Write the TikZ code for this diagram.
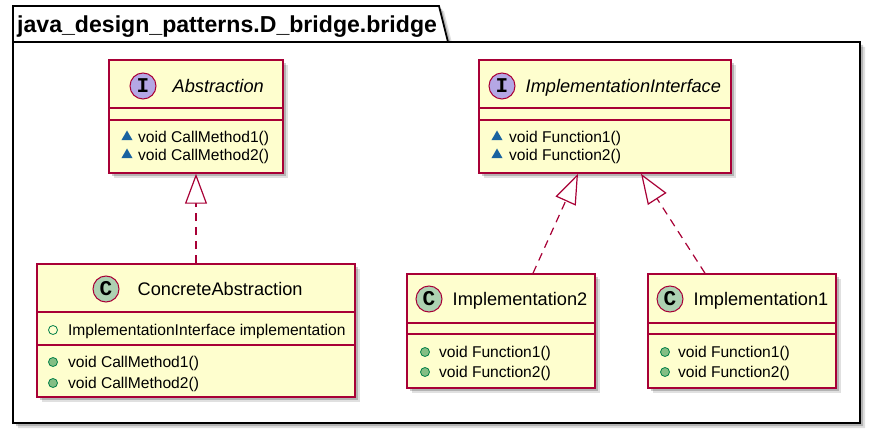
\documentclass[tikz,border=0pt]{standalone}
\usepackage{fontspec}
\setmainfont{Liberation Sans}
\setmonofont{Liberation Mono}
\usepackage{xcolor}
\usepackage{tikz}
\usetikzlibrary{positioning}
\usetikzlibrary{arrows.meta,shadows,shapes.geometric}
\definecolor{umlfill}{HTML}{FEFECE}
\definecolor{umlborder}{HTML}{A80036}
\definecolor{spotI}{HTML}{B4A7E5}
\definecolor{spotC}{HTML}{ADD1B2}
\definecolor{pubfill}{HTML}{84BE84}
\definecolor{publine}{HTML}{038048}
\definecolor{pkgtri}{HTML}{1963A0}
\tikzset{realize/.style = {draw=umlborder,line width=1.2pt,dash pattern=on 8pt off 6pt,
  -{Triangle[length=30pt,width=22pt,fill=white,line width=1.2pt]}}}
\tikzset{shade box/.style = {drop shadow={shadow xshift=5pt,shadow yshift=-5pt,opacity=0.12,fill=black},
  drop shadow={shadow xshift=3pt,shadow yshift=-3pt,opacity=0.2,fill=black}}}

\begin{document}
\begin{tikzpicture}[x=1pt,y=-1pt,
    class node/.style={rectangle,draw=umlborder,line width=1.5pt,fill=umlfill,inner sep=0pt,shade box},
    spot/.style={circle,draw=umlborder,line width=1pt,minimum size=26pt,inner sep=0pt,
      font=\ttfamily\bfseries\fontsize{21}{21}\selectfont},
    cname/.style={inner sep=0pt,text height=16pt,text depth=3pt,font=\fontsize{18.2}{20}\selectfont},
    iname/.style={cname,font=\itshape\fontsize{18.2}{20}\selectfont},
    member/.style={inner sep=0pt,text height=14pt,text depth=2.8pt,font=\fontsize{15.6}{18}\selectfont},
    pub/.style={circle,draw=publine,fill=pubfill,line width=0.8pt,minimum size=9pt,inner sep=0pt},
    field/.style={pub,fill=none},
    pkgdot/.style={regular polygon,regular polygon sides=3,fill=pkgtri,minimum size=13pt,inner sep=0pt},
    sep/.style={draw=umlborder,line width=1.5pt}]
        \useasboundingbox (0,0) rectangle (875,430);

        % package frame
        \draw[line width=1.8pt,fill=white,shade box] (13,42) -- (13,6) -- (439,6) -- (448,42)
            -- (860,42) -- (860,423) -- (13,423) -- cycle;
        \draw[line width=1.8pt] (13,42) -- (448,42);
        \node[inner sep=0pt,anchor=base west,font=\bfseries\fontsize{23.1}{24}\selectfont] (pkgtitle)
            at (17,32.5) {java\_design\_patterns.D\_bridge.bridge};

        % interfaces
        \node[class node,minimum width=174pt,minimum height=113pt] (abs) at (196,116.5) {};
        \node[spot,fill=spotI] (absspot) at (143,86) {I};
        \node[iname] (absname) [right=16pt of absspot] {Abstraction};
        \draw[sep] (abs.west |- 0,108) -- (abs.east |- 0,108);
        \draw[sep] (abs.west |- 0,120) -- (abs.east |- 0,120);
        \node[pkgdot] (absm1) at (127,137) {};
        \node[member] (absm1t) [right=7pt of absm1] {void CallMethod1()};
        \node[pkgdot] (absm2) at (127,155) {};
        \node[member] (absm2t) [right=7pt of absm2] {void CallMethod2()};

        \node[class node,minimum width=252pt,minimum height=113pt] (iface) at (605,116.5) {};
        \node[spot,fill=spotI] (ifacespot) at (502,86) {I};
        \node[iname] (ifacename) [right=10pt of ifacespot] {ImplementationInterface};
        \draw[sep] (iface.west |- 0,108) -- (iface.east |- 0,108);
        \draw[sep] (iface.west |- 0,120) -- (iface.east |- 0,120);
        \node[pkgdot] (ifacem1) at (497,137) {};
        \node[member] (ifacem1t) [right=8pt of ifacem1] {void Function1()};
        \node[pkgdot] (ifacem2) at (497,155) {};
        \node[member] (ifacem2t) [right=8pt of ifacem2] {void Function2()};

        % classes
        \node[class node,minimum width=318pt,minimum height=133pt] (conc) at (196,330.5) {};
        \node[spot,fill=spotC] (concspot) at (106,289) {C};
        \node[cname] (concname) [right=18pt of concspot] {ConcreteAbstraction};
        \draw[sep] (conc.west |- 0,312) -- (conc.east |- 0,312);
        \draw[sep] (conc.west |- 0,345) -- (conc.east |- 0,345);
        \node[field] (concf) at (53,330) {};
        \node[member] (concft) [right=10pt of concf] {ImplementationInterface implementation};
        \node[pub] (concm1) at (53,362) {};
        \node[member] (concm1t) [right=10pt of concm1] {void CallMethod1()};
        \node[pub] (concm2) at (53,383) {};
        \node[member] (concm2t) [right=10pt of concm2] {void CallMethod2()};

        \node[class node,minimum width=188pt,minimum height=114pt] (impl2) at (501,331) {};
        \node[spot,fill=spotC] (impl2spot) at (429,299) {C};
        \node[cname] (impl2name) [right=10pt of impl2spot] {Implementation2};
        \draw[sep] (impl2.west |- 0,323) -- (impl2.east |- 0,323);
        \draw[sep] (impl2.west |- 0,334) -- (impl2.east |- 0,334);
        \node[pub] (impl2m1) at (425,352) {};
        \node[member] (impl2m1t) [right=9pt of impl2m1] {void Function1()};
        \node[pub] (impl2m2) at (425,372) {};
        \node[member] (impl2m2t) [right=9pt of impl2m2] {void Function2()};

        \node[class node,minimum width=188pt,minimum height=114pt] (impl1) at (742,331) {};
        \node[spot,fill=spotC] (impl1spot) at (670,299) {C};
        \node[cname] (impl1name) [right=10pt of impl1spot] {Implementation1};
        \draw[sep] (impl1.west |- 0,323) -- (impl1.east |- 0,323);
        \draw[sep] (impl1.west |- 0,334) -- (impl1.east |- 0,334);
        \node[pub] (impl1m1) at (665,352) {};
        \node[member] (impl1m1t) [right=8pt of impl1m1] {void Function1()};
        \node[pub] (impl1m2) at (665,372) {};
        \node[member] (impl1m2t) [right=8pt of impl1m2] {void Function2()};

        % realizations
        \path[realize] (conc.north) -- (abs.south);
        \path[realize] ([xshift=32pt]impl2.north) -- ([xshift=-27pt]iface.south);
        \path[realize] ([xshift=-37pt]impl1.north) -- ([xshift=36pt]iface.south);
\end{tikzpicture}
\end{document}
